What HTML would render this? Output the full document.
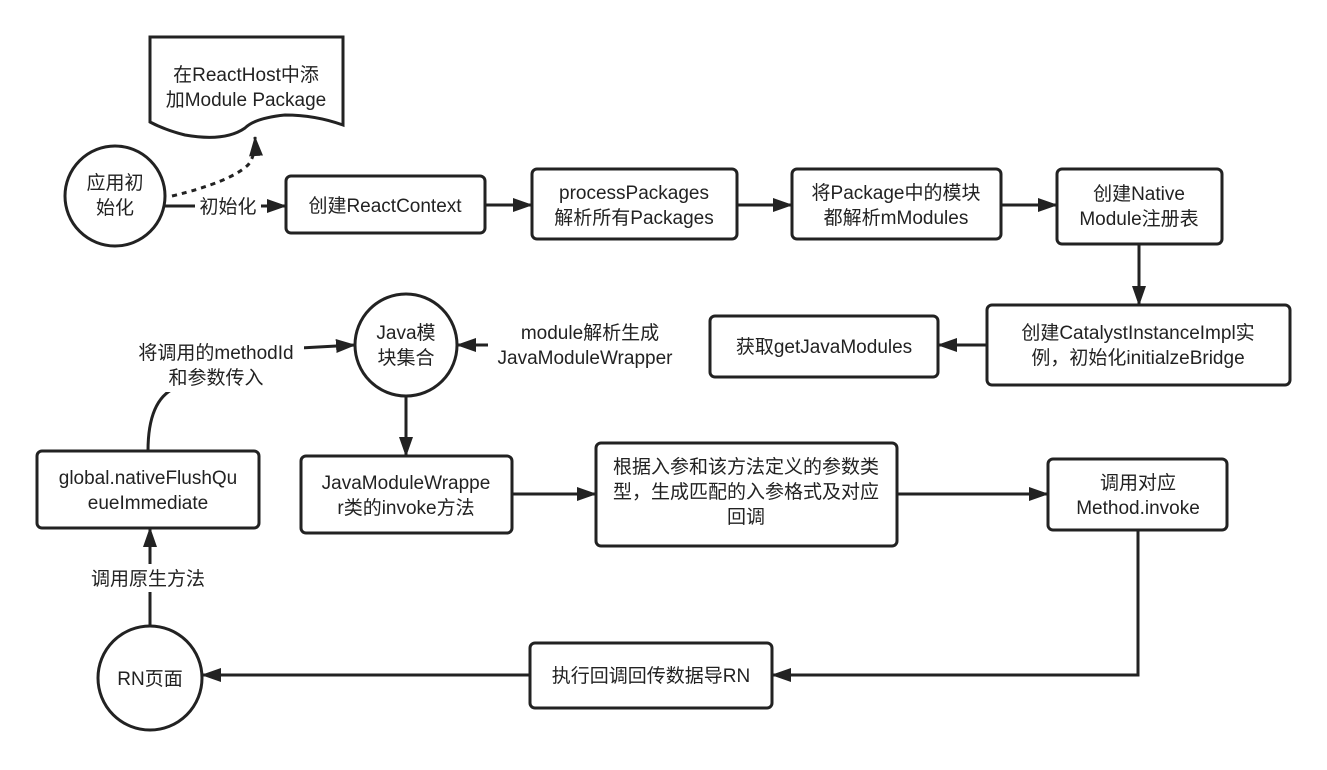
<!DOCTYPE html>
<html><head><meta charset="utf-8"><style>
body{margin:0;background:#fff}
svg text{font-family:"Liberation Sans","Noto Sans CJK SC",sans-serif;font-size:19px;fill:#222;text-anchor:middle}
</style></head><body>
<svg width="1327" height="765" viewBox="0 0 1327 765" xmlns="http://www.w3.org/2000/svg">
<defs>
<marker id="b" markerWidth="20" markerHeight="16" refX="19" refY="8" orient="auto" markerUnits="userSpaceOnUse"><path d="M0,1 L20,8 L0,15 z" fill="#222"/></marker></defs>
<g fill="#fff" stroke="#222" stroke-width="3">
<path d="M150,37 H343 V125 Q315,115 285,115 Q255,118 245,128 Q225,142 185,135 Q165,130 150,122 Z"/>
<circle cx="115" cy="196" r="50"/>
<circle cx="406" cy="345" r="51"/>
<circle cx="150" cy="678" r="52"/>
<rect x="286" y="176" width="199" height="57" rx="5"/>
<rect x="532" y="169" width="205" height="70" rx="5"/>
<rect x="792" y="169" width="209" height="70" rx="5"/>
<rect x="1057" y="169" width="165" height="75" rx="5"/>
<rect x="987" y="305" width="303" height="80" rx="5"/>
<rect x="710" y="316" width="228" height="61" rx="5"/>
<rect x="301" y="456" width="211" height="77" rx="5"/>
<rect x="596" y="443" width="301" height="103" rx="5"/>
<rect x="1048" y="459" width="179" height="71" rx="5"/>
<rect x="37" y="451" width="222" height="77" rx="5"/>
<rect x="530" y="643" width="242" height="65" rx="5"/>
</g>
<g fill="none" stroke="#222" stroke-width="3">
<path d="M172,196 Q230,182 248,165 Q256,155 255,137" stroke-dasharray="5,5" marker-end="url(#b)"/>
<path d="M165,206 H286" marker-end="url(#b)"/>
<path d="M485,205 H532" marker-end="url(#b)"/>
<path d="M737,205 H792" marker-end="url(#b)"/>
<path d="M1001,205 H1057" marker-end="url(#b)"/>
<path d="M1139,244 V305" marker-end="url(#b)"/>
<path d="M987,345 H938" marker-end="url(#b)"/>
<path d="M500,345 H457" marker-end="url(#b)"/>
<path d="M406,396 V456" marker-end="url(#b)"/>
<path d="M512,494 H596" marker-end="url(#b)"/>
<path d="M897,494 H1048" marker-end="url(#b)"/>
<path d="M1138,530 V675 H772" marker-end="url(#b)"/>
<path d="M530,675 H202" marker-end="url(#b)"/>
<path d="M150,626 V528" marker-end="url(#b)"/>
<path d="M148,451 Q148,400 175,388"/>
<path d="M300,348 L355,345" marker-end="url(#b)"/>
</g>
<g fill="#fff" stroke="none">
<rect x="195" y="194" width="66" height="24"/>
<rect x="488" y="318" width="196" height="52"/>
<rect x="128" y="336" width="176" height="56"/>
<rect x="78" y="564" width="140" height="28"/>
</g>
<text x="246" y="81">在ReactHost中添</text>
<text x="246" y="106">加Module Package</text>
<text x="115" y="189">应用初</text>
<text x="115" y="214">始化</text>
<text x="228" y="213">初始化</text>
<text x="385" y="212">创建ReactContext</text>
<text x="634" y="199">processPackages</text>
<text x="634" y="224">解析所有Packages</text>
<text x="896" y="199">将Package中的模块</text>
<text x="896" y="224">都解析mModules</text>
<text x="1139" y="200">创建Native</text>
<text x="1139" y="225">Module注册表</text>
<text x="1138" y="339">创建CatalystInstanceImpl实</text>
<text x="1138" y="364">例，初始化initialzeBridge</text>
<text x="824" y="353">获取getJavaModules</text>
<text x="590" y="339">module解析生成</text>
<text x="585" y="364">JavaModuleWrapper</text>
<text x="406" y="339">Java模</text>
<text x="406" y="364">块集合</text>
<text x="216" y="359">将调用的methodId</text>
<text x="216" y="384">和参数传入</text>
<text x="406" y="489">JavaModuleWrappe</text>
<text x="406" y="514">r类的invoke方法</text>
<text x="746" y="473">根据入参和该方法定义的参数类</text>
<text x="746" y="498">型，生成匹配的入参格式及对应</text>
<text x="746" y="523">回调</text>
<text x="1138" y="489">调用对应</text>
<text x="1138" y="514">Method.invoke</text>
<text x="148" y="484">global.nativeFlushQu</text>
<text x="148" y="509">eueImmediate</text>
<text x="148" y="585">调用原生方法</text>
<text x="150" y="685">RN页面</text>
<text x="651" y="682">执行回调回传数据导RN</text>
</svg>
</body></html>
